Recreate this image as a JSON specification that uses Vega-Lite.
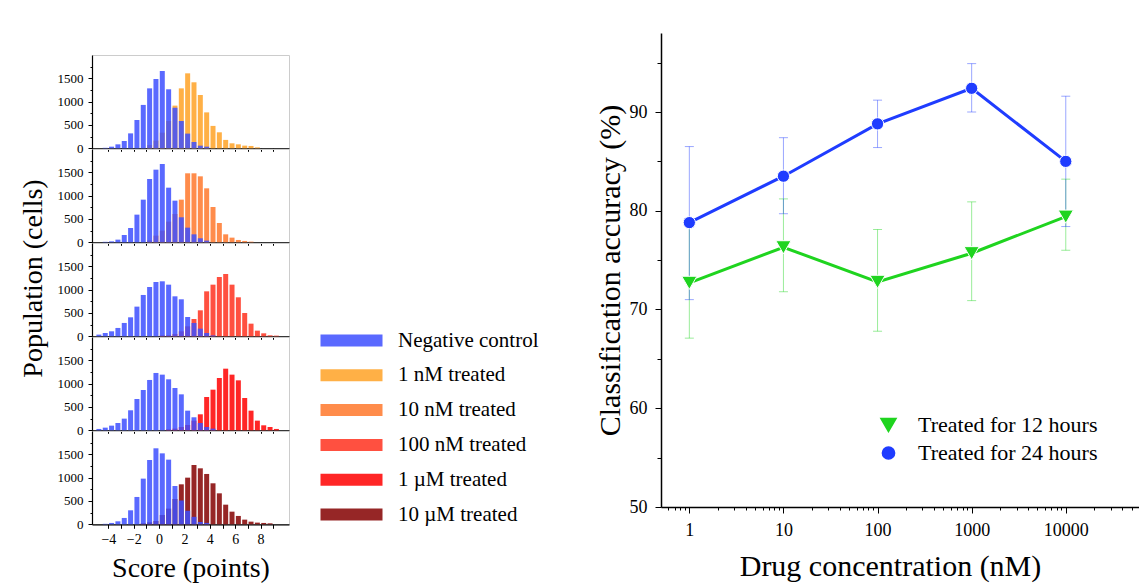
{
  "$schema": "https://vega.github.io/schema/vega-lite/v6.json",
  "padding": {"left": 18, "top": 33, "right": 0, "bottom": 0},
  "background": "white",
  "config": {
    "font": "Liberation Serif",
    "text": {"font": "Liberation Serif"},
    "axis": {"labelFont": "Liberation Serif", "titleFont": "Liberation Serif", "labelColor": "#000", "titleColor": "#000", "domainColor": "#000", "tickColor": "#000", "grid": false, "titleFontWeight": "normal"},
    "legend": {"labelFont": "Liberation Serif", "titleFont": "Liberation Serif", "labelColor": "#000", "labelLimit": 400}
  },
  "datasets": {
    "hist": [
      {"p":1,"g":"1 nM treated","x":-0.75,"n":70},{"p":1,"g":"1 nM treated","x":-0.25,"n":165},{"p":1,"g":"1 nM treated","x":0.25,"n":335},{"p":1,"g":"1 nM treated","x":0.75,"n":585},{"p":1,"g":"1 nM treated","x":1.25,"n":915},{"p":1,"g":"1 nM treated","x":1.75,"n":1285},{"p":1,"g":"1 nM treated","x":2.25,"n":1607},{"p":1,"g":"1 nM treated","x":2.75,"n":1415},{"p":1,"g":"1 nM treated","x":3.25,"n":1143},{"p":1,"g":"1 nM treated","x":3.75,"n":770},{"p":1,"g":"1 nM treated","x":4.25,"n":480},{"p":1,"g":"1 nM treated","x":4.75,"n":343},{"p":1,"g":"1 nM treated","x":5.25,"n":180},{"p":1,"g":"1 nM treated","x":5.75,"n":107},{"p":1,"g":"1 nM treated","x":6.25,"n":85},{"p":1,"g":"1 nM treated","x":6.75,"n":57},{"p":1,"g":"1 nM treated","x":7.25,"n":50},{"p":1,"g":"1 nM treated","x":7.75,"n":20},
      {"p":2,"g":"10 nM treated","x":-0.75,"n":43},{"p":2,"g":"10 nM treated","x":-0.25,"n":143},{"p":2,"g":"10 nM treated","x":0.25,"n":250},{"p":2,"g":"10 nM treated","x":0.75,"n":443},{"p":2,"g":"10 nM treated","x":1.25,"n":607},{"p":2,"g":"10 nM treated","x":1.75,"n":914},{"p":2,"g":"10 nM treated","x":2.25,"n":1479},{"p":2,"g":"10 nM treated","x":2.75,"n":1479},{"p":2,"g":"10 nM treated","x":3.25,"n":1414},{"p":2,"g":"10 nM treated","x":3.75,"n":1157},{"p":2,"g":"10 nM treated","x":4.25,"n":757},{"p":2,"g":"10 nM treated","x":4.75,"n":414},{"p":2,"g":"10 nM treated","x":5.25,"n":171},{"p":2,"g":"10 nM treated","x":5.75,"n":100},{"p":2,"g":"10 nM treated","x":6.25,"n":50},{"p":2,"g":"10 nM treated","x":6.75,"n":29},{"p":2,"g":"10 nM treated","x":7.25,"n":14},
      {"p":3,"g":"100 nM treated","x":0.25,"n":20},{"p":3,"g":"100 nM treated","x":0.75,"n":21},{"p":3,"g":"100 nM treated","x":1.25,"n":50},{"p":3,"g":"100 nM treated","x":1.75,"n":107},{"p":3,"g":"100 nM treated","x":2.25,"n":214},{"p":3,"g":"100 nM treated","x":2.75,"n":371},{"p":3,"g":"100 nM treated","x":3.25,"n":557},{"p":3,"g":"100 nM treated","x":3.75,"n":964},{"p":3,"g":"100 nM treated","x":4.25,"n":1107},{"p":3,"g":"100 nM treated","x":4.75,"n":1271},{"p":3,"g":"100 nM treated","x":5.25,"n":1336},{"p":3,"g":"100 nM treated","x":5.75,"n":1107},{"p":3,"g":"100 nM treated","x":6.25,"n":836},{"p":3,"g":"100 nM treated","x":6.75,"n":500},{"p":3,"g":"100 nM treated","x":7.25,"n":271},{"p":3,"g":"100 nM treated","x":7.75,"n":121},{"p":3,"g":"100 nM treated","x":8.25,"n":64},{"p":3,"g":"100 nM treated","x":8.75,"n":21},{"p":3,"g":"100 nM treated","x":9.25,"n":14},
      {"p":4,"g":"1 µM treated","x":0.75,"n":21},{"p":4,"g":"1 µM treated","x":1.25,"n":36},{"p":4,"g":"1 µM treated","x":1.75,"n":71},{"p":4,"g":"1 µM treated","x":2.25,"n":114},{"p":4,"g":"1 µM treated","x":2.75,"n":207},{"p":4,"g":"1 µM treated","x":3.25,"n":343},{"p":4,"g":"1 µM treated","x":3.75,"n":714},{"p":4,"g":"1 µM treated","x":4.25,"n":871},{"p":4,"g":"1 µM treated","x":4.75,"n":1121},{"p":4,"g":"1 µM treated","x":5.25,"n":1321},{"p":4,"g":"1 µM treated","x":5.75,"n":1193},{"p":4,"g":"1 µM treated","x":6.25,"n":1071},{"p":4,"g":"1 µM treated","x":6.75,"n":693},{"p":4,"g":"1 µM treated","x":7.25,"n":421},{"p":4,"g":"1 µM treated","x":7.75,"n":207},{"p":4,"g":"1 µM treated","x":8.25,"n":107},{"p":4,"g":"1 µM treated","x":8.75,"n":71},{"p":4,"g":"1 µM treated","x":9.25,"n":29},
      {"p":5,"g":"10 µM treated","x":-1.25,"n":21},{"p":5,"g":"10 µM treated","x":-0.75,"n":43},{"p":5,"g":"10 µM treated","x":-0.25,"n":71},{"p":5,"g":"10 µM treated","x":0.25,"n":200},{"p":5,"g":"10 µM treated","x":0.75,"n":336},{"p":5,"g":"10 µM treated","x":1.25,"n":543},{"p":5,"g":"10 µM treated","x":1.75,"n":857},{"p":5,"g":"10 µM treated","x":2.25,"n":1000},{"p":5,"g":"10 µM treated","x":2.75,"n":1271},{"p":5,"g":"10 µM treated","x":3.25,"n":1200},{"p":5,"g":"10 µM treated","x":3.75,"n":1079},{"p":5,"g":"10 µM treated","x":4.25,"n":879},{"p":5,"g":"10 µM treated","x":4.75,"n":664},{"p":5,"g":"10 µM treated","x":5.25,"n":421},{"p":5,"g":"10 µM treated","x":5.75,"n":271},{"p":5,"g":"10 µM treated","x":6.25,"n":179},{"p":5,"g":"10 µM treated","x":6.75,"n":100},{"p":5,"g":"10 µM treated","x":7.25,"n":57},{"p":5,"g":"10 µM treated","x":7.75,"n":36},{"p":5,"g":"10 µM treated","x":8.25,"n":29},{"p":5,"g":"10 µM treated","x":8.75,"n":21},
      {"p":1,"g":"Negative control","x":-4.25,"n":10},{"p":1,"g":"Negative control","x":-3.75,"n":35},{"p":1,"g":"Negative control","x":-3.25,"n":85},{"p":1,"g":"Negative control","x":-2.75,"n":157},{"p":1,"g":"Negative control","x":-2.25,"n":320},{"p":1,"g":"Negative control","x":-1.75,"n":607},{"p":1,"g":"Negative control","x":-1.25,"n":930},{"p":1,"g":"Negative control","x":-0.75,"n":1285},{"p":1,"g":"Negative control","x":-0.25,"n":1485},{"p":1,"g":"Negative control","x":0.25,"n":1657},{"p":1,"g":"Negative control","x":0.75,"n":1265},{"p":1,"g":"Negative control","x":1.25,"n":870},{"p":1,"g":"Negative control","x":1.75,"n":585},{"p":1,"g":"Negative control","x":2.25,"n":315},{"p":1,"g":"Negative control","x":2.75,"n":135},{"p":1,"g":"Negative control","x":3.25,"n":57},{"p":1,"g":"Negative control","x":3.75,"n":35},
      {"p":2,"g":"Negative control","x":-4.25,"n":10},{"p":2,"g":"Negative control","x":-3.75,"n":20},{"p":2,"g":"Negative control","x":-3.25,"n":57},{"p":2,"g":"Negative control","x":-2.75,"n":157},{"p":2,"g":"Negative control","x":-2.25,"n":307},{"p":2,"g":"Negative control","x":-1.75,"n":593},{"p":2,"g":"Negative control","x":-1.25,"n":914},{"p":2,"g":"Negative control","x":-0.75,"n":1357},{"p":2,"g":"Negative control","x":-0.25,"n":1557},{"p":2,"g":"Negative control","x":0.25,"n":1679},{"p":2,"g":"Negative control","x":0.75,"n":1171},{"p":2,"g":"Negative control","x":1.25,"n":893},{"p":2,"g":"Negative control","x":1.75,"n":536},{"p":2,"g":"Negative control","x":2.25,"n":314},{"p":2,"g":"Negative control","x":2.75,"n":171},{"p":2,"g":"Negative control","x":3.25,"n":86},{"p":2,"g":"Negative control","x":3.75,"n":36},
      {"p":3,"g":"Negative control","x":-4.75,"n":36},{"p":3,"g":"Negative control","x":-4.25,"n":71},{"p":3,"g":"Negative control","x":-3.75,"n":107},{"p":3,"g":"Negative control","x":-3.25,"n":179},{"p":3,"g":"Negative control","x":-2.75,"n":286},{"p":3,"g":"Negative control","x":-2.25,"n":407},{"p":3,"g":"Negative control","x":-1.75,"n":636},{"p":3,"g":"Negative control","x":-1.25,"n":886},{"p":3,"g":"Negative control","x":-0.75,"n":1057},{"p":3,"g":"Negative control","x":-0.25,"n":1164},{"p":3,"g":"Negative control","x":0.25,"n":1179},{"p":3,"g":"Negative control","x":0.75,"n":1107},{"p":3,"g":"Negative control","x":1.25,"n":857},{"p":3,"g":"Negative control","x":1.75,"n":793},{"p":3,"g":"Negative control","x":2.25,"n":414},{"p":3,"g":"Negative control","x":2.75,"n":286},{"p":3,"g":"Negative control","x":3.25,"n":164},{"p":3,"g":"Negative control","x":3.75,"n":71},{"p":3,"g":"Negative control","x":4.25,"n":20},
      {"p":4,"g":"Negative control","x":-4.75,"n":29},{"p":4,"g":"Negative control","x":-4.25,"n":57},{"p":4,"g":"Negative control","x":-3.75,"n":100},{"p":4,"g":"Negative control","x":-3.25,"n":157},{"p":4,"g":"Negative control","x":-2.75,"n":250},{"p":4,"g":"Negative control","x":-2.25,"n":429},{"p":4,"g":"Negative control","x":-1.75,"n":671},{"p":4,"g":"Negative control","x":-1.25,"n":864},{"p":4,"g":"Negative control","x":-0.75,"n":1079},{"p":4,"g":"Negative control","x":-0.25,"n":1229},{"p":4,"g":"Negative control","x":0.25,"n":1193},{"p":4,"g":"Negative control","x":0.75,"n":1093},{"p":4,"g":"Negative control","x":1.25,"n":907},{"p":4,"g":"Negative control","x":1.75,"n":771},{"p":4,"g":"Negative control","x":2.25,"n":421},{"p":4,"g":"Negative control","x":2.75,"n":279},{"p":4,"g":"Negative control","x":3.25,"n":157},{"p":4,"g":"Negative control","x":3.75,"n":71},{"p":4,"g":"Negative control","x":4.25,"n":36},
      {"p":5,"g":"Negative control","x":-4.25,"n":10},{"p":5,"g":"Negative control","x":-3.75,"n":29},{"p":5,"g":"Negative control","x":-3.25,"n":64},{"p":5,"g":"Negative control","x":-2.75,"n":136},{"p":5,"g":"Negative control","x":-2.25,"n":300},{"p":5,"g":"Negative control","x":-1.75,"n":586},{"p":5,"g":"Negative control","x":-1.25,"n":979},{"p":5,"g":"Negative control","x":-0.75,"n":1379},{"p":5,"g":"Negative control","x":-0.25,"n":1629},{"p":5,"g":"Negative control","x":0.25,"n":1521},{"p":5,"g":"Negative control","x":0.75,"n":1386},{"p":5,"g":"Negative control","x":1.25,"n":821},{"p":5,"g":"Negative control","x":1.75,"n":510},{"p":5,"g":"Negative control","x":2.25,"n":290},{"p":5,"g":"Negative control","x":2.75,"n":160},{"p":5,"g":"Negative control","x":3.25,"n":50},{"p":5,"g":"Negative control","x":3.75,"n":30}
    ],
    "acc": [
      {"s":"Treated for 12 hours","c":1,"a":72.7,"lo":67.1,"hi":78.6},
      {"s":"Treated for 12 hours","c":10,"a":76.3,"lo":71.8,"hi":81.2},
      {"s":"Treated for 12 hours","c":100,"a":72.8,"lo":67.8,"hi":78.1},
      {"s":"Treated for 12 hours","c":1000,"a":75.7,"lo":70.9,"hi":80.9},
      {"s":"Treated for 12 hours","c":10000,"a":79.4,"lo":76.0,"hi":83.2},
      {"s":"Treated for 24 hours","c":1,"a":78.8,"lo":71.0,"hi":86.5},
      {"s":"Treated for 24 hours","c":10,"a":83.5,"lo":79.7,"hi":87.4},
      {"s":"Treated for 24 hours","c":100,"a":88.8,"lo":86.4,"hi":91.2},
      {"s":"Treated for 24 hours","c":1000,"a":92.4,"lo":90.0,"hi":94.9},
      {"s":"Treated for 24 hours","c":10000,"a":85.0,"lo":78.4,"hi":91.6}
    ]
  },
  "hconcat": [
    {
      "spacing": 0,
      "bounds": "flush",
      "vconcat": [
        {"width": 197, "height": 22, "data": {"values": []}, "mark": "point", "encoding": {}, "view": {"stroke": null}},
        {
          "width": 197, "height": 93.3, "view": {"stroke": "#cccccc"},
          "data": {"name": "hist"}, "transform": [{"filter": "datum.p == 1"}],
          "mark": {"type": "bar", "size": 5, "opacity": 0.85},
          "encoding": {
            "x": {"field": "x", "type": "quantitative", "scale": {"domain": [-4.9, 9.85], "nice": false, "zero": false}, "axis": {"values": [-4,-3,-2,-1,0,1,2,3,4,5,6,7,8,9], "labels": false, "title": null, "tickSize": 3, "domainWidth": 1.2}},
            "y": {"field": "n", "type": "quantitative", "stack": null, "scale": {"domain": [0, 2000], "nice": false}, "axis": {"values": [0,250,500,750,1000,1250,1500,1750], "format": "d", "labelExpr": "datum.value % 500 == 0 ? datum.label : ''", "tickSize": {"condition": {"test": "datum.value % 500 != 0", "value": 2}, "value": 4}, "labelFontSize": 13, "labelPadding": 5, "title": null, "domainWidth": 1.2}},
            "color": {"field": "g", "type": "nominal", "scale": {"domain": ["Negative control","1 nM treated","10 nM treated","100 nM treated","1 µM treated","10 µM treated"], "range": ["#3d4fff","#ffa226","#ff782c","#ff311f","#ff0000","#840000"]}, "legend": {"title": null, "orient": "none", "legendX": 249, "legendY": 297, "symbolType": "M-6.2,-1.2H6.2V1.2H-6.2Z", "symbolSize": 100, "symbolStrokeWidth": 0, "labelFontSize": 21, "labelOffset": 36, "rowPadding": 12.8}}
          }
        },
        {
          "width": 197, "height": 93.3, "view": {"stroke": "#cccccc"},
          "data": {"name": "hist"}, "transform": [{"filter": "datum.p == 2"}],
          "mark": {"type": "bar", "size": 5, "opacity": 0.85},
          "encoding": {
            "x": {"field": "x", "type": "quantitative", "scale": {"domain": [-4.9, 9.85], "nice": false, "zero": false}, "axis": {"values": [-4,-3,-2,-1,0,1,2,3,4,5,6,7,8,9], "labels": false, "title": null, "tickSize": 3, "domainWidth": 1.2}},
            "y": {"field": "n", "type": "quantitative", "stack": null, "scale": {"domain": [0, 2000], "nice": false}, "axis": {"values": [0,250,500,750,1000,1250,1500,1750], "format": "d", "labelExpr": "datum.value % 500 == 0 ? datum.label : ''", "tickSize": {"condition": {"test": "datum.value % 500 != 0", "value": 2}, "value": 4}, "labelFontSize": 13, "labelPadding": 5, "title": null, "domainWidth": 1.2}},
            "color": {"field": "g", "type": "nominal", "scale": {"domain": ["Negative control","1 nM treated","10 nM treated","100 nM treated","1 µM treated","10 µM treated"], "range": ["#3d4fff","#ffa226","#ff782c","#ff311f","#ff0000","#840000"]}, "legend": {"title": null, "orient": "none", "legendX": 249, "legendY": 297, "symbolType": "M-6.2,-1.2H6.2V1.2H-6.2Z", "symbolSize": 100, "symbolStrokeWidth": 0, "labelFontSize": 21, "labelOffset": 36, "rowPadding": 12.8}}
          }
        },
        {
          "width": 197, "height": 93.3, "view": {"stroke": "#cccccc"},
          "data": {"name": "hist"}, "transform": [{"filter": "datum.p == 3"}],
          "mark": {"type": "bar", "size": 5, "opacity": 0.85},
          "encoding": {
            "x": {"field": "x", "type": "quantitative", "scale": {"domain": [-4.9, 9.85], "nice": false, "zero": false}, "axis": {"values": [-4,-3,-2,-1,0,1,2,3,4,5,6,7,8,9], "labels": false, "title": null, "tickSize": 3, "domainWidth": 1.2}},
            "y": {"field": "n", "type": "quantitative", "stack": null, "scale": {"domain": [0, 2000], "nice": false}, "axis": {"values": [0,250,500,750,1000,1250,1500,1750], "format": "d", "labelExpr": "datum.value % 500 == 0 ? datum.label : ''", "tickSize": {"condition": {"test": "datum.value % 500 != 0", "value": 2}, "value": 4}, "labelFontSize": 13, "labelPadding": 5, "title": "Population (cells)", "titleFontSize": 28, "titlePadding": 10, "titleY": 35, "domainWidth": 1.2}},
            "color": {"field": "g", "type": "nominal", "scale": {"domain": ["Negative control","1 nM treated","10 nM treated","100 nM treated","1 µM treated","10 µM treated"], "range": ["#3d4fff","#ffa226","#ff782c","#ff311f","#ff0000","#840000"]}, "legend": {"title": null, "orient": "none", "legendX": 249, "legendY": 297, "symbolType": "M-6.2,-1.2H6.2V1.2H-6.2Z", "symbolSize": 100, "symbolStrokeWidth": 0, "labelFontSize": 21, "labelOffset": 36, "rowPadding": 12.8}}
          }
        },
        {
          "width": 197, "height": 93.3, "view": {"stroke": "#cccccc"},
          "data": {"name": "hist"}, "transform": [{"filter": "datum.p == 4"}],
          "mark": {"type": "bar", "size": 5, "opacity": 0.85},
          "encoding": {
            "x": {"field": "x", "type": "quantitative", "scale": {"domain": [-4.9, 9.85], "nice": false, "zero": false}, "axis": {"values": [-4,-3,-2,-1,0,1,2,3,4,5,6,7,8,9], "labels": false, "title": null, "tickSize": 3, "domainWidth": 1.2}},
            "y": {"field": "n", "type": "quantitative", "stack": null, "scale": {"domain": [0, 2000], "nice": false}, "axis": {"values": [0,250,500,750,1000,1250,1500,1750], "format": "d", "labelExpr": "datum.value % 500 == 0 ? datum.label : ''", "tickSize": {"condition": {"test": "datum.value % 500 != 0", "value": 2}, "value": 4}, "labelFontSize": 13, "labelPadding": 5, "title": null, "domainWidth": 1.2}},
            "color": {"field": "g", "type": "nominal", "scale": {"domain": ["Negative control","1 nM treated","10 nM treated","100 nM treated","1 µM treated","10 µM treated"], "range": ["#3d4fff","#ffa226","#ff782c","#ff311f","#ff0000","#840000"]}, "legend": {"title": null, "orient": "none", "legendX": 249, "legendY": 297, "symbolType": "M-6.2,-1.2H6.2V1.2H-6.2Z", "symbolSize": 100, "symbolStrokeWidth": 0, "labelFontSize": 21, "labelOffset": 36, "rowPadding": 12.8}}
          }
        },
        {
          "width": 197, "height": 93.3, "view": {"stroke": "#cccccc"},
          "data": {"name": "hist"}, "transform": [{"filter": "datum.p == 5"}],
          "mark": {"type": "bar", "size": 5, "opacity": 0.85},
          "encoding": {
            "x": {"field": "x", "type": "quantitative", "scale": {"domain": [-4.9, 9.85], "nice": false, "zero": false}, "axis": {"values": [-4,-3,-2,-1,0,1,2,3,4,5,6,7,8,9], "labelExpr": "datum.value % 2 == 0 ? datum.label : ''", "labelFontSize": 14, "labelPadding": 4, "labelFlush": false, "title": "Score (points)", "titleFontSize": 28, "titlePadding": 8, "tickSize": 4, "domainWidth": 1.2}},
            "y": {"field": "n", "type": "quantitative", "stack": null, "scale": {"domain": [0, 2000], "nice": false}, "axis": {"values": [0,250,500,750,1000,1250,1500,1750], "format": "d", "labelExpr": "datum.value % 500 == 0 ? datum.label : ''", "tickSize": {"condition": {"test": "datum.value % 500 != 0", "value": 2}, "value": 4}, "labelFontSize": 13, "labelPadding": 5, "title": null, "domainWidth": 1.2}},
            "color": {"field": "g", "type": "nominal", "scale": {"domain": ["Negative control","1 nM treated","10 nM treated","100 nM treated","1 µM treated","10 µM treated"], "range": ["#3d4fff","#ffa226","#ff782c","#ff311f","#ff0000","#840000"]}, "legend": {"title": null, "orient": "none", "legendX": 249, "legendY": 297, "symbolType": "M-6.2,-1.2H6.2V1.2H-6.2Z", "symbolSize": 100, "symbolStrokeWidth": 0, "labelFontSize": 21, "labelOffset": 36, "rowPadding": 12.8}}
          }
        }
      ]
    },
    {
      "width": 478, "height": 474,
      "view": {"stroke": null},
      "data": {"name": "acc"},
      "encoding": {
        "x": {"field": "c", "type": "quantitative", "scale": {"type": "log", "domain": [0.5, 60000], "nice": false}, "axis": {"title": "Drug concentration (nM)", "titleFontSize": 30, "titlePadding": 12, "titleX": 229, "labelFontSize": 18, "labelPadding": 8, "labelFlush": false, "domainWidth": 1.5, "values": [0.6,0.7,0.8,0.9,1,2,3,4,5,6,7,8,9,10,20,30,40,50,60,70,80,90,100,200,300,400,500,600,700,800,900,1000,2000,3000,4000,5000,6000,7000,8000,9000,10000,20000,30000,40000,50000], "labelExpr": "indexof([1,10,100,1000,10000], datum.value) >= 0 ? format(datum.value, 'd') : ''", "tickSize": {"condition": {"test": "indexof([1,10,100,1000,10000], datum.value) < 0", "value": 3}, "value": 6}}}
      },
      "layer": [
        {
          "mark": {"type": "point", "filled": true, "opacity": 1, "stroke": "white", "strokeWidth": 1},
          "encoding": {
            "y": {"field": "a", "type": "quantitative", "title": "Classification accuracy (%)", "scale": {"domain": [50, 98], "nice": false, "zero": false}, "axis": {"title": "Classification accuracy (%)", "titleFontSize": 30, "titlePadding": 4, "labelFontSize": 18, "labelPadding": 8, "domainWidth": 1.5, "values": [50,55,60,65,70,75,80,85,90,95], "labelExpr": "datum.value % 10 == 0 ? datum.label : ''", "tickSize": {"condition": {"test": "datum.value % 10 != 0", "value": 4}, "value": 6}}},
            "color": {"field": "s", "type": "nominal", "scale": {"domain": ["Treated for 12 hours", "Treated for 24 hours"], "range": ["#1fd41f", "#1f3cff"]},
              "legend": {"title": null, "orient": "none", "legendX": 216.5, "legendY": 381, "symbolOpacity": 1, "labelFontSize": 22, "labelOffset": 18.5, "rowPadding": 6, "labelLimit": 400}},
            "shape": {"field": "s", "type": "nominal", "scale": {"domain": ["Treated for 12 hours", "Treated for 24 hours"], "range": ["triangle-down", "circle"]}, "legend": null},
            "size": {"field": "s", "type": "nominal", "scale": {"domain": ["Treated for 12 hours", "Treated for 24 hours"], "range": [230, 150]}, "legend": null}
          }
        },
        {
          "mark": {"type": "errorbar", "ticks": {"size": 9}, "thickness": 1, "opacity": 0.45},
          "encoding": {
            "y": {"field": "lo", "type": "quantitative", "title": "Classification accuracy (%)"},
            "y2": {"field": "hi"},
            "color": {"field": "s", "type": "nominal"}
          }
        },
        {
          "mark": {"type": "line", "strokeWidth": 3},
          "encoding": {
            "y": {"field": "a", "type": "quantitative", "title": "Classification accuracy (%)"},
            "color": {"field": "s", "type": "nominal"}
          }
        },
        {
          "mark": {"type": "point", "filled": true, "opacity": 1, "stroke": "white", "strokeWidth": 1},
          "encoding": {
            "y": {"field": "a", "type": "quantitative", "title": "Classification accuracy (%)"},
            "color": {"field": "s", "type": "nominal"},
            "shape": {"field": "s", "type": "nominal"},
            "size": {"field": "s", "type": "nominal"}
          }
        }
      ]
    }
  ],
  "spacing": 56,
  "resolve": {"scale": {"color": "independent", "shape": "independent", "size": "independent"}, "legend": {"color": "independent"}}
}
